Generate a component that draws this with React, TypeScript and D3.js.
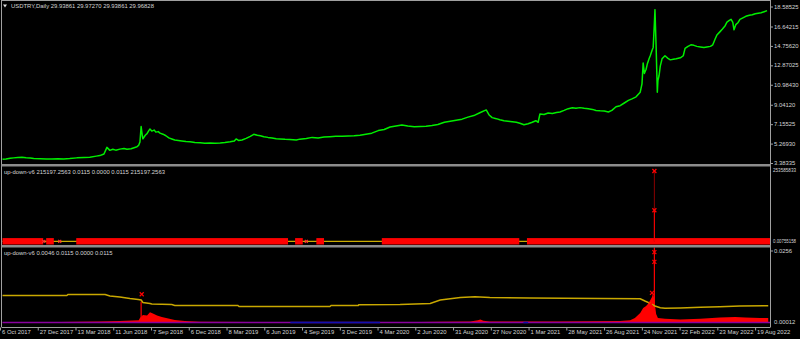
import React from 'react';
import * as d3 from 'd3';

const W = 800;
const H = 339;

// ---- x axis (bar index; one label every 64 bars) ----
const BARS_PER_LABEL = 64;
const TOTAL_BARS = 1301;
const dateLabels = [
  '6 Oct 2017', '27 Dec 2017', '13 Mar 2018', '11 Jun 2018', '7 Sep 2018', '6 Dec 2018',
  '8 Mar 2019', '6 Jun 2019', '4 Sep 2019', '3 Dec 2019', '4 Mar 2020', '2 Jun 2020',
  '31 Aug 2020', '27 Nov 2020', '1 Mar 2021', '28 May 2021', '26 Aug 2021', '24 Nov 2021',
  '22 Feb 2022', '23 May 2022', '19 Aug 2022',
];

// ---- pane 1: USDTRY daily close ----
const priceTicks = [18.58525, 16.64215, 14.7562, 12.87025, 10.9843, 9.0412, 7.15525, 5.2693, 3.38335];
const priceTitle = 'USDTRY,Daily  29.93861 29.97270 29.93861 29.96828';
const price: [number, number][] = [
  [0, 3.80], [6, 3.83], [13, 3.89], [19, 3.93], [26, 3.97], [33, 4.00], [40, 3.95], [47, 3.91],
  [53, 3.87], [64, 3.85], [74, 3.83], [84, 3.81], [94, 3.85], [104, 3.83], [114, 3.86], [126, 3.93],
  [138, 3.97], [148, 4.00], [159, 4.10], [165, 4.15], [172, 4.30], [177, 4.95], [182, 4.66], [187, 4.76],
  [192, 4.68], [199, 4.78], [206, 4.84], [211, 4.76], [218, 4.81], [223, 4.91], [228, 5.01], [231, 5.17],
  [233, 5.47], [235, 6.98], [237, 6.08], [238, 5.78], [242, 6.13], [245, 6.28], [248, 6.58], [250, 6.73],
  [253, 6.53], [257, 6.63], [260, 6.43], [264, 6.48], [267, 6.33], [272, 6.23], [277, 6.08], [282, 5.87],
  [287, 5.77], [292, 5.67], [298, 5.62], [304, 5.57], [311, 5.52], [318, 5.49], [326, 5.42], [335, 5.39],
  [343, 5.35], [352, 5.37], [360, 5.34], [369, 5.37], [377, 5.42], [386, 5.49], [393, 5.57], [396, 5.77],
  [400, 5.62], [406, 5.67], [413, 5.82], [420, 6.02], [426, 6.22], [432, 6.12], [437, 6.07], [443, 5.99],
  [450, 5.92], [457, 5.87], [464, 5.79], [470, 5.77], [479, 5.73], [487, 5.72], [498, 5.67], [504, 5.75],
  [515, 5.82], [525, 5.92], [535, 5.87], [545, 5.95], [555, 5.99], [565, 6.02], [576, 6.02], [586, 6.05],
  [596, 6.07], [606, 6.12], [616, 6.22], [626, 6.33], [637, 6.58], [647, 6.68], [657, 6.93], [667, 7.03],
  [677, 7.13], [687, 7.03], [698, 6.96], [708, 6.98], [718, 7.00], [728, 7.08], [738, 7.18], [749, 7.39],
  [759, 7.49], [769, 7.59], [779, 7.69], [789, 7.89], [799, 8.04], [810, 8.34], [820, 8.59], [825, 8.09],
  [830, 7.84], [837, 7.74], [843, 7.64], [850, 7.54], [857, 7.49], [864, 7.44], [871, 7.39], [877, 7.29],
  [884, 7.14], [891, 7.24], [898, 7.39], [904, 7.54], [908, 7.39], [911, 8.19], [918, 8.14], [925, 8.29],
  [932, 8.24], [939, 8.34], [945, 8.39], [952, 8.54], [959, 8.71], [966, 8.79], [972, 8.74], [979, 8.81],
  [986, 8.74], [993, 8.69], [1000, 8.64], [1006, 8.54], [1013, 8.51], [1020, 8.49], [1027, 8.39], [1033, 8.54],
  [1040, 8.90], [1047, 9.00], [1054, 9.26], [1061, 9.51], [1067, 9.66], [1074, 9.86], [1081, 10.31], [1084, 11.12],
  [1086, 13.14], [1088, 12.13], [1091, 12.54], [1093, 13.04], [1096, 13.55], [1098, 13.85], [1101, 14.35], [1103, 14.66],
  [1105, 16.97], [1106, 18.33], [1108, 14.66], [1110, 10.31], [1111, 11.43], [1113, 11.93], [1115, 12.84], [1118, 13.55],
  [1123, 13.85], [1128, 13.60], [1132, 13.45], [1137, 13.50], [1142, 13.55], [1149, 13.65], [1154, 13.85], [1157, 14.56],
  [1162, 14.76], [1167, 14.91], [1172, 14.86], [1177, 14.76], [1183, 14.71], [1189, 14.66], [1194, 14.71], [1200, 14.76],
  [1204, 14.91], [1208, 15.47], [1211, 15.87], [1216, 16.17], [1220, 16.42], [1225, 16.77], [1228, 17.12], [1232, 17.28],
  [1235, 17.38], [1238, 17.08], [1240, 16.37], [1243, 16.87], [1247, 17.08], [1250, 17.38], [1255, 17.53], [1260, 17.68],
  [1266, 17.78], [1271, 17.83], [1276, 17.93], [1281, 17.98], [1286, 18.03], [1291, 18.13], [1296, 18.23],
];

// ---- pane 2: up-down-v6 (huge scale) ----
const p2Title = 'up-down-v6 215197.2563 0.0115 0.0000 0.0115 215197.2563';
const p2Max = 253585833;
const p2Labels = ['253585833', '0.00755158'];
const p2RedSegments: [number, number][] = [[0, 69], [74, 87], [125, 484], [496, 509], [532, 545], [643, 876], [889, 1301]];
const p2BaseMarkers = [70, 97, 515];
const p2SpikeBar = 1105;
const p2SpikeValues = [253585833, 112000000];

// ---- pane 3: up-down-v6 ----
const p3Title = 'up-down-v6 0.0046 0.0115 0.0000 0.0115';
const p3Max = 0.0256;
const p3Min = 0.00012;
const p3Labels = ['0.0256', '0.00012'];
const p3Line: [number, number][] = [
  [0, 0.00967], [109, 0.00967], [111, 0.01003], [174, 0.01003], [182, 0.00949], [199, 0.00913], [216, 0.00859],
  [230, 0.00823], [235, 0.00806], [238, 0.00716], [250, 0.0068], [253, 0.00662], [287, 0.00644], [292, 0.00609],
  [399, 0.00609], [401, 0.00573], [555, 0.00573], [557, 0.00609], [603, 0.00609], [604, 0.00637], [674, 0.00644],
  [725, 0.0068], [742, 0.00806], [776, 0.00895], [801, 0.00924], [826, 0.00895], [894, 0.00877], [1013, 0.00859],
  [1081, 0.00852], [1089, 0.0077], [1098, 0.00687], [1106, 0.00591], [1115, 0.0053], [1123, 0.00508], [1149, 0.00519],
  [1183, 0.00544], [1216, 0.00566], [1250, 0.00591], [1298, 0.00602],
];
const p3Hist: [number, number][] = [
  [0, 0.0001], [97, 0.0002], [165, 0.0004], [199, 0.0005], [231, 0.0008], [233, 0.0016], [238, 0.0027], [245, 0.0025],
  [250, 0.0037], [255, 0.0032], [262, 0.0025], [270, 0.002], [281, 0.0014], [292, 0.0009], [309, 0.0005], [335, 0.0003],
  [420, 0.0002], [504, 0.0001], [589, 0.0001], [708, 0.0002], [742, 0.0003], [793, 0.0004], [806, 0.0008], [810, 0.0011],
  [815, 0.0006], [826, 0.0004], [843, 0.0004], [945, 0.0004], [1047, 0.0005], [1064, 0.0008], [1072, 0.0016], [1081, 0.0034],
  [1086, 0.0052], [1091, 0.0059], [1094, 0.0066], [1098, 0.008], [1101, 0.0091], [1103, 0.0109], [1106, 0.0063], [1108, 0.003],
  [1111, 0.0016], [1123, 0.0013], [1149, 0.0011], [1183, 0.0013], [1216, 0.0018], [1242, 0.002], [1259, 0.0018], [1284, 0.0016],
  [1298, 0.0016],
];
const p3Spikes: [number, number][] = [[235, 0.0075], [1105, 0.035]];
const p3Markers: [number, number][] = [[236, 0.0101], [1105, 0.0252], [1105, 0.0217], [1101, 0.0106], [1099, 0.0066]];
const p3BlueSegments: [number, number][] = [[488, 640], [883, 891]];

// ---- layout ----
const PLOT_R = 770.5;
const P1 = { top: 1, bottom: 164 };
const P2 = { top: 166.5, bottom: 245 };
const P3 = { top: 247.5, bottom: 327 };
const FONT = '"Liberation Sans", Arial, sans-serif';
const FS = 5.9;
const TXT = '#d4d4d4';
const FRAME = '#a0a0a0';

const x = d3.scaleLinear().domain([0, TOTAL_BARS]).range([2.5, 770]);
const y1 = d3.scaleLinear().domain([3.38335, 18.58525]).range([163.5, 7]);
const y2 = d3.scaleLinear().domain([0, p2Max]).range([241.3, 171]);
const y3 = d3.scaleLinear().domain([0, p3Max]).range([322.5, 251]);

function Cross({ cx, cy, color = '#ff0000', s = 2 }: { cx: number; cy: number; color?: string; s?: number }) {
  return (
    <g stroke={color} strokeWidth={1.2}>
      <line x1={cx - s} y1={cy - s} x2={cx + s} y2={cy + s} />
      <line x1={cx - s} y1={cy + s} x2={cx + s} y2={cy - s} />
    </g>
  );
}

export default function App() {
  const priceLine = d3.line<[number, number]>().x(d => x(d[0])).y(d => y1(d[1]))(price) || '';
  const p3LinePath = d3.line<[number, number]>().x(d => x(d[0])).y(d => y3(d[1]))(p3Line) || '';
  const p3Area = d3.area<[number, number]>().x(d => x(d[0])).y0(y3(0)).y1(d => y3(d[1]))(p3Hist) || '';

  return (
    <svg width={W} height={H} style={{ position: 'absolute', left: 0, top: 0, display: 'block' }}
      fontFamily={FONT} fontSize={FS}>
      <defs>
        <clipPath id="c1"><rect x={2} y={P1.top} width={PLOT_R - 2} height={P1.bottom - P1.top} /></clipPath>
        <clipPath id="c2"><rect x={2} y={P2.top} width={PLOT_R - 2} height={P2.bottom - P2.top} /></clipPath>
        <clipPath id="c3"><rect x={2} y={P3.top} width={PLOT_R - 2} height={P3.bottom - P3.top} /></clipPath>
      </defs>
      <rect x={0} y={0} width={W} height={H} fill="#000" />

      {/* pane 1 */}
      <g clipPath="url(#c1)">
        <path d={priceLine} fill="none" stroke="#00ee00" strokeWidth={1.5} strokeLinejoin="round" />
      </g>
      <path d="M3,4.6 L7,4.6 L5,7.4 Z" fill="#e0e0e0" />
      <text x={11} y={6} fill={TXT} dominantBaseline="middle">{priceTitle}</text>

      {/* pane 2 */}
      <g clipPath="url(#c2)">
        <line x1={x(0)} x2={PLOT_R} y1={y2(0)} y2={y2(0)} stroke="#ffd700" strokeWidth={1} />
        {p2RedSegments.map(([a, b], i) => (
          <rect key={i} x={x(a)} width={x(b) - x(a)} y={y2(0) - 3.2} height={6.4} fill="#ff0000" />
        ))}
        <line x1={x(p2SpikeBar)} x2={x(p2SpikeBar)} y1={y2(0)} y2={y2(p2SpikeValues[0])} stroke="#8b0000" strokeWidth={1} />
        <line x1={x(p2SpikeBar)} x2={x(p2SpikeBar)} y1={y2(0)} y2={y2(p2SpikeValues[1])} stroke="#ff0000" strokeWidth={1} />
        {p2SpikeValues.map((v, i) => <Cross key={i} cx={x(p2SpikeBar)} cy={y2(v)} />)}
        {p2BaseMarkers.map((b, i) => <Cross key={i} cx={x(b)} cy={y2(0)} color="#ff3030" s={1.5} />)}
      </g>
      <text x={4} y={172} fill={TXT} dominantBaseline="middle">{p2Title}</text>

      {/* pane 3 */}
      <g clipPath="url(#c3)">
        <path d={p3Area} fill="#ff0000" />
        {p3Spikes.map(([b, v], i) => (
          <line key={i} x1={x(b)} x2={x(b)} y1={y3(0)} y2={y3(v)} stroke="#ff0000" strokeWidth={1.2} />
        ))}
        <line x1={x(0)} x2={PLOT_R} y1={y3(0)} y2={y3(0)} stroke="#8a00a0" strokeWidth={1.5} />
        {p3BlueSegments.map(([a, b], i) => (
          <line key={i} x1={x(a)} x2={x(b)} y1={y3(0)} y2={y3(0)} stroke="#1010b0" strokeWidth={1.5} />
        ))}
        <path d={p3LinePath} fill="none" stroke="#c9a800" strokeWidth={1.5} />
        {p3Markers.map(([b, v], i) => <Cross key={i} cx={x(b)} cy={y3(v)} />)}
      </g>
      <text x={4} y={253} fill={TXT} dominantBaseline="middle">{p3Title}</text>

      {/* frame and separators */}
      <line x1={1.5} x2={1.5} y1={0} y2={P3.bottom} stroke={FRAME} />
      <line x1={1.5} x2={PLOT_R} y1={0.5} y2={0.5} stroke={FRAME} />
      <line x1={PLOT_R} x2={PLOT_R} y1={0} y2={P3.bottom} stroke={FRAME} />
      <line x1={1.5} x2={PLOT_R} y1={P3.bottom + 0.5} y2={P3.bottom + 0.5} stroke={FRAME} />
      <rect x={1.5} y={P1.bottom} width={PLOT_R - 1.5} height={2.5} fill="#8c8c8c" />
      <rect x={1.5} y={P2.bottom} width={PLOT_R - 1.5} height={2.5} fill="#8c8c8c" />

      {/* right axis pane 1 */}
      {priceTicks.map((t, i) => (
        <g key={i}>
          <line x1={PLOT_R} x2={PLOT_R + 2.5} y1={y1(t)} y2={y1(t)} stroke={FRAME} />
          <text x={774} y={Math.max(5.5, y1(t))} fill={TXT} dominantBaseline="middle">{t.toFixed(5)}</text>
        </g>
      ))}
      {/* right axis pane 2 */}
      <text x={773} y={171} fill={TXT} dominantBaseline="middle" fontSize={5.2} textLength={23} lengthAdjust="spacingAndGlyphs">{p2Labels[0]}</text>
      <text x={773} y={241.3} fill={TXT} dominantBaseline="middle" fontSize={5.2} textLength={23} lengthAdjust="spacingAndGlyphs">{p2Labels[1]}</text>
      {/* right axis pane 3 */}
      <line x1={PLOT_R} x2={PLOT_R + 2.5} y1={y3(p3Max)} y2={y3(p3Max)} stroke={FRAME} />
      <text x={774} y={y3(p3Max)} fill={TXT} dominantBaseline="middle">{p3Labels[0]}</text>
      <text x={774} y={y3(p3Min)} fill={TXT} dominantBaseline="middle">{p3Labels[1]}</text>

      {/* bottom date axis */}
      {dateLabels.map((lab, i) => {
        const px = x(i * BARS_PER_LABEL);
        return (
          <g key={lab}>
            <line x1={px - 2} x2={px - 2} y1={P3.bottom + 0.5} y2={P3.bottom + 3.5} stroke={FRAME} />
            <text x={px - 0.5} y={332.5} fill={TXT} dominantBaseline="middle">{lab}</text>
          </g>
        );
      })}
    </svg>
  );
}
